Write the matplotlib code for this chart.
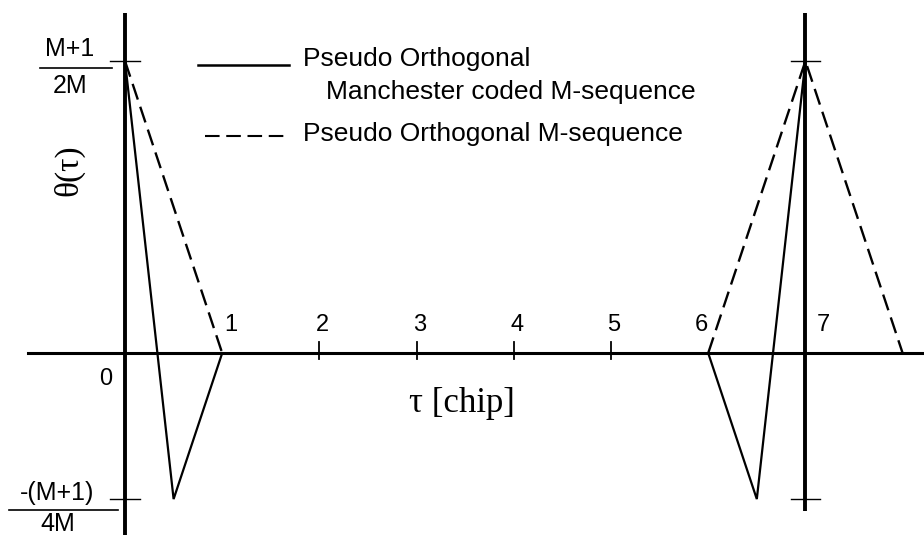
import numpy as np
import matplotlib
matplotlib.use("Agg")
import matplotlib.pyplot as plt

# Correlation shapes, theta normalised so the peak (M+1)/2M = 1
tau_manchester = [0.0, 0.5, 1.0, np.nan, 6.0, 6.5, 7.0]
theta_manchester = [1.0, -0.5, 0.0, np.nan, 0.0, -0.5, 1.0]

tau_mseq = [0.0, 1.0, np.nan, 6.0, 7.0, 8.0]
theta_mseq = [1.0, 0.0, np.nan, 0.0, 1.0, 0.0]

chip_ticks = [1, 2, 3, 4, 5, 6, 7]
peak_level = 1.0
dip_level = -0.5

W, H = 924, 535
fig = plt.figure(figsize=(W / 100, H / 100), dpi=100)
ax = fig.add_axes([0, 0, 1, 1])
x_lo, x_hi = -1.286, 8.22
ax.set_xlim(x_lo, x_hi)
ax.set_ylim(-0.623, 1.209)
ax.axis("off")

sans = "Liberation Sans"
serif = "Liberation Serif"
fs = 18
fs_legend = 19

# axes drawn as plain lines
ax.axhline(0, xmin=(-1.0 - x_lo) / (x_hi - x_lo), xmax=1.0, color="black", lw=2.2)
ax.vlines(0, -0.63, 1.165, color="black", lw=2.8)
ax.vlines(7, -0.54, 1.165, color="black", lw=2.8)

# small tick marks on the tau axis
for t in [2, 3, 4, 5]:
    ax.plot([t, t], [-0.02, 0.037], color="black", lw=1.3)

# level ticks on both vertical axes
for x0 in [0, 7]:
    for lvl in [peak_level, dip_level]:
        ax.plot([x0 - 0.15, x0 + 0.15], [lvl, lvl], color="black", lw=1.0)

# curves
ax.plot(tau_manchester, theta_manchester, color="black", lw=1.6, solid_joinstyle="miter")
ax.plot(tau_mseq, theta_mseq, color="black", lw=1.7, dashes=(7, 3.2))

# tau tick labels
label_dx = {1: 0.09, 2: 0.03, 3: 0.03, 4: 0.03, 5: 0.03, 6: -0.07, 7: 0.18}
for t in chip_ticks:
    ax.text(t + label_dx[t], 0.095, str(t), family=sans, fontsize=17,
            ha="center", va="center")
ax.text(-0.2, -0.09, "0", family=sans, fontsize=17, ha="center", va="center")

# fraction labels for the levels
ax.text(-0.57, 1.04, "M+1", family=sans, fontsize=fs, ha="center", va="center")
ax.plot([-0.875, -0.13], [0.977, 0.977], color="black", lw=1.2)
ax.text(-0.57, 0.915, "2M", family=sans, fontsize=fs, ha="center", va="center")

ax.text(-0.7, -0.478, "-(M+1)", family=sans, fontsize=fs, ha="center", va="center")
ax.plot([-1.19, -0.07], [-0.537, -0.537], color="black", lw=1.2)
ax.text(-0.69, -0.584, "4M", family=sans, fontsize=fs, ha="center", va="center")

# axis titles
ax.text(-0.58, 0.625, "θ(τ)", fontsize=24, rotation=90,
        ha="center", va="center", family=serif)
ax.text(3.47, -0.172, "τ [chip]", fontsize=25, ha="center", va="center",
        family=serif)

# legend drawn by hand
ax.plot([0.75, 1.69], [0.985, 0.985], color="black", lw=1.8)
ax.text(1.83, 1.008, "Pseudo Orthogonal", family=sans, fontsize=fs_legend,
        ha="left", va="center")
ax.text(2.07, 0.895, "Manchester coded M-sequence", family=sans, fontsize=fs_legend,
        ha="left", va="center")
ax.plot([0.82, 1.69], [0.744, 0.744], color="black", lw=1.5, dashes=(7, 3.2))
ax.text(1.83, 0.75, "Pseudo Orthogonal M-sequence", family=sans, fontsize=fs_legend,
        ha="left", va="center")

fig.savefig("out.png", dpi=100, facecolor="white")
